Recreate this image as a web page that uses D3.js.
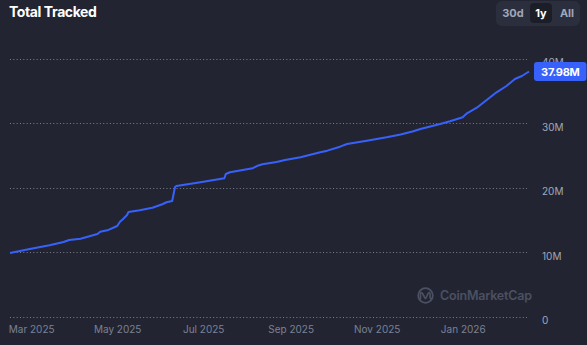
<!DOCTYPE html>
<html>
<head>
<meta charset="utf-8">
<script src="https://cdn.jsdelivr.net/npm/d3@7"></script>
<style>
  html, body { margin: 0; padding: 0; background: #222531; }
  svg { display: block; font-family: Inter, "Noto Sans", sans-serif; }
</style>
</head>
<body>
<svg id="chart" width="587" height="345"></svg>
<script>
// Cumulative total tracked, daily snapshots over the last year
const dates = [
  "2025-02-14","2025-02-21","2025-02-28","2025-03-14","2025-03-24","2025-03-28",
  "2025-04-05","2025-04-17","2025-04-19","2025-04-24","2025-05-01","2025-05-03",
  "2025-05-05","2025-05-08","2025-05-09","2025-05-17","2025-05-26","2025-06-02",
  "2025-06-05","2025-06-09","2025-06-11","2025-06-12","2025-06-29","2025-07-16",
  "2025-07-17","2025-07-20","2025-08-05","2025-08-08","2025-08-12","2025-08-22",
  "2025-08-28","2025-09-08","2025-09-22","2025-09-27","2025-10-06","2025-10-11",
  "2025-10-25","2025-11-08","2025-11-18","2025-11-27","2025-12-02","2025-12-16",
  "2025-12-23","2026-01-01","2026-01-04","2026-01-11","2026-01-18","2026-01-25",
  "2026-02-01","2026-02-07","2026-02-12","2026-02-17"
];
const totals = [
  9.85, 10.16, 10.47, 11.04, 11.55, 11.86,
  12.06, 12.79, 13.15, 13.36, 14.03, 14.70,
  15.07, 15.74, 16.20, 16.47, 16.87, 17.40,
  17.71, 17.91, 20.08, 20.23, 20.81, 21.43,
  22.09, 22.36, 22.98, 23.33, 23.60, 23.95,
  24.26, 24.68, 25.46, 25.71, 26.33, 26.74,
  27.26, 27.78, 28.22, 28.71, 29.07, 29.84,
  30.26, 30.88, 31.50, 32.37, 33.57, 34.76,
  35.74, 36.82, 37.29, 37.98
].map(v => v * 1e6);

const yTicks = [0, 10e6, 20e6, 30e6, 40e6];
const xTicks = ["2025-03-01","2025-05-01","2025-07-01","2025-09-01","2025-11-01","2026-01-01"];
const ranges = ["30d", "1y", "All"];
const activeRange = "1y";

const parse = d3.utcParse("%Y-%m-%d");
const series = dates.map((d, i) => ({ date: parse(d), value: totals[i] }));

const svg = d3.select("#chart");
const W = 587;

const x = d3.scaleUtc()
  .domain([parse("2025-02-14"), parse("2026-02-17")])
  .range([10, 529]);
const y = d3.scaleLinear()
  .domain([0, 40e6])
  .range([316.5, 58.5]);

// Title
svg.append("text")
  .attr("x", 9).attr("y", 17)
  .attr("fill", "#ffffff")
  .attr("font-size", 14).attr("font-weight", 700)
  .attr("letter-spacing", -0.4)
  .text("Total Tracked");

// Range switcher
const sw = svg.append("g");
sw.append("rect")
  .attr("x", 496).attr("y", 1).attr("width", 84).attr("height", 25)
  .attr("rx", 6).attr("fill", "#2b2f3d");
const btnX = { "30d": 513, "1y": 541, "All": 567 };
ranges.forEach(r => {
  if (r === activeRange) {
    sw.append("rect")
      .attr("x", btnX[r] - 11).attr("y", 3).attr("width", 22).attr("height", 20)
      .attr("rx", 4).attr("fill", "#1c1e27");
  }
  sw.append("text")
    .attr("x", btnX[r]).attr("y", 17)
    .attr("text-anchor", "middle")
    .attr("font-size", 11).attr("font-weight", 700)
    .attr("fill", r === activeRange ? "#ffffff" : "#a1a7bb")
    .text(r);
});

// Horizontal dotted gridlines
svg.append("g")
  .selectAll("line")
  .data(yTicks)
  .join("line")
  .attr("x1", 10).attr("x2", 527)
  .attr("y1", d => Math.round(y(d)) + 0.5)
  .attr("y2", d => Math.round(y(d)) + 0.5)
  .attr("stroke", "#7c8190")
  .attr("stroke-width", 1)
  .attr("stroke-dasharray", "1 2.33");

// Y axis labels on the right
const yAxis = d3.axisRight(y)
  .tickValues(yTicks)
  .tickSize(0)
  .tickPadding(0)
  .tickFormat(d => d === 0 ? "0" : d3.format("d")(d / 1e6) + "M");
const gy = svg.append("g")
  .attr("transform", "translate(542,4)")
  .call(yAxis);
gy.select(".domain").remove();
gy.selectAll("text")
  .attr("fill", "#a1a7bb")
  .attr("font-size", 10)
  .attr("font-family", "Inter, sans-serif");

// X axis labels
const xAxis = d3.axisBottom(x)
  .tickValues(xTicks.map(parse))
  .tickSize(0)
  .tickPadding(0)
  .tickFormat(d3.utcFormat("%b %Y"));
const gx = svg.append("g")
  .attr("transform", "translate(0,326)")
  .call(xAxis);
gx.select(".domain").remove();
gx.selectAll("text")
  .attr("fill", "#7a8197")
  .attr("font-size", 10)
  .attr("font-family", "Inter, sans-serif");

// Watermark
const wm = svg.append("g").attr("fill", "none").attr("stroke", "#4b5062");
wm.append("circle").attr("cx", 425.5).attr("cy", 295.5).attr("r", 7.3).attr("stroke-width", 1.8);
wm.append("path")
  .attr("d", "M420.5,299 L420.5,293.5 Q421,291.5 422.5,293.5 L425,298 Q425.6,299 426,298 L428,293.5 Q429.5,291.5 430,293.5 L430,297.5 Q430.5,299 431.5,298.5")
  .attr("stroke-width", 1.6).attr("stroke-linecap", "round").attr("stroke-linejoin", "round");
svg.append("text")
  .attr("x", 440).attr("y", 300)
  .attr("fill", "#4b5062")
  .attr("font-size", 12.5).attr("font-weight", 600)
  .attr("letter-spacing", -0.2)
  .text("CoinMarketCap");

// Series line
const line = d3.line()
  .x(d => x(d.date))
  .y(d => y(d.value));
svg.append("path")
  .datum(series)
  .attr("fill", "none")
  .attr("stroke", "#3861fb")
  .attr("stroke-width", 2)
  .attr("stroke-linejoin", "round")
  .attr("d", line);

// Latest value badge
const last = series[series.length - 1];
const by = y(last.value);
svg.append("rect")
  .attr("x", 534).attr("y", by - 9.5).attr("width", 52.5).attr("height", 19)
  .attr("rx", 3).attr("fill", "#3861fb");
svg.append("text")
  .attr("x", 560.3).attr("y", by + 4)
  .attr("text-anchor", "middle")
  .attr("fill", "#ffffff")
  .attr("font-size", 11).attr("font-weight", 700)
  .attr("letter-spacing", -0.3)
  .text(d3.format(".2f")(last.value / 1e6) + "M");
</script>
</body>
</html>
